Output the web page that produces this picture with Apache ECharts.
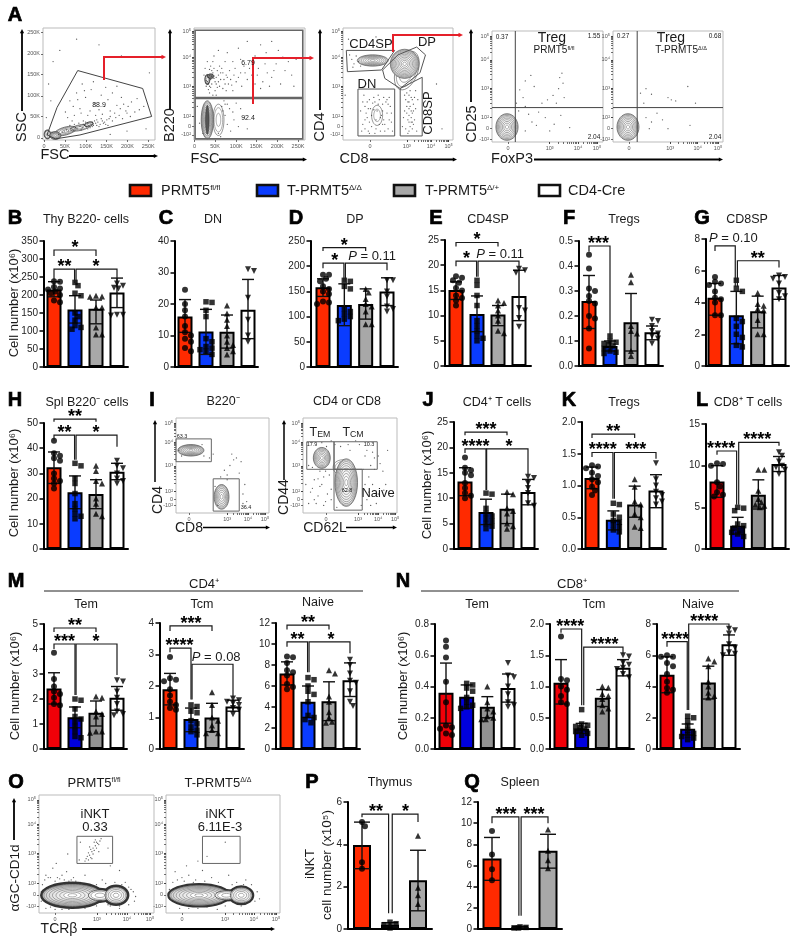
<!DOCTYPE html>
<html><head><meta charset="utf-8">
<style>html,body{margin:0;padding:0;background:#fff}#c{width:796px;height:942px}</style>
<script src="https://cdn.jsdelivr.net/npm/echarts@6/dist/echarts.min.js"></script>
</head><body><div id="c"></div>
<script>
// ---------- bar panel values ----------
const B_means=[215,160,162,207], B_hi=[237,198,186,247], B_lo=[195,122,120,165];
const B_pts=[[238,237,222,218,215,210,205,200,185,180],[235,226,205,198,150,140,130,115,110,105],[198,196,195,165,165,110,90,90],[232,226,220,218,145,145,143]];
const B_br=[[0,2,325,308,308,'*',1],[0,.98,272,233,233,'**',.5],[1.05,3,272,233,232,'*',2]];
const C_means=[16,11.3,11.2,18.2], C_hi=[21.4,18.3,16.5,27.8], C_lo=[11,4,6,9];
const C_pts=[[24.5,20,18,16,13,11,10,9,8,6,5],[20.7,20.5,18,16,9,8,6.5,6,5.5,5,4],[19.5,17,15,13,10,8,7,6,5,4],[31,30.5,22,15,10,8]];
const D_means=[158,123,125,150], D_hi=[175,165,155,177], D_lo=[140,82,95,122];
const D_pts=[[183,183,175,170,160,155,150,145,130,128,125],[172,170,160,155,115,110,105,100,95,92],[155,148,135,125,120,110,85,85],[172,172,150,140,120,115,110]];
const D_br=[[0,2,237,230,230,'*',1],[0,.98,206,196,169,'*',.55],[1.05,3,206,169,192,'P = 0.11',2.3]];
const E_means=[15.1,10.3,10.2,13.9], E_hi=[16.7,13.9,12,19], E_lo=[13.2,6.8,8,9];
const E_pts=[[17.8,17.5,17,16.5,15.5,15,14,13.5,13,12],[17,16,14,12,9,8,7,6,5.5,5],[13,12.5,12,11,10,9,7,6.5],[19.3,19,18.5,11.5,11,9.5,7.8]];
const E_br=[[0,2,24.5,23.7,23.7,'*',1],[0,.98,20.8,19.8,17.7,'*',.5],[1.05,3,20.8,17.7,19.6,'P = 0.11',2.1]];
const F_means=[.26,.08,.175,.135], F_hi=[.362,.1,.29,.16], F_lo=[.15,.06,.06,.105];
const F_pts=[[.445,.39,.31,.3,.28,.26,.25,.2,.19,.15,.07],[.12,.1,.095,.09,.085,.08,.07,.06,.055,.05],[.365,.335,.16,.14,.13,.06,.04],[.185,.18,.16,.14,.13,.12,.11,.09]];
const F_br=[[0,1,.48,.457,.104,'***',.45]];
const G_means=[4.3,3.2,3.45,4.95], G_hi=[5.2,4.7,4.4,5.7], G_lo=[3.2,1.4,2.4,4.2];
const G_pts=[[5.6,5.3,5.2,5.1,4.7,4.3,4.2,4,3.2,3.2],[5.4,4.9,4.7,3,2.8,2.5,2,1.8,1.3,1.2],[4.6,3.9,3.8,3.6,3.5,2.9,2,2],[5.7,5.6,5.5,5.2,4.6,4.4,4.2]];
const G_br=[[0,.95,7.57,7.25,5,'P = 0.10',.86],[1.05,3,6.63,5,6.2,'**',2]];
const H_means=[32.4,22.5,21.8,30.7], H_hi=[38.5,29,27.5,34], H_lo=[26,16,16,27.5];
const H_pts=[[43,38,37,36,35,30,28,27,26,24],[34,33,28,26,22,18,16,14,13,12],[33,31,27,26,20,18,14,13],[35,33,32,30,28,27,26]];
const H_br=[[0,2,51.5,50.5,50.5,'**',1],[0,.98,45.2,43.2,35.4,'**',.5],[1.05,3,45.2,35.4,40.6,'*',2]];
const J_means=[13.3,7.3,7.9,11.2], J_hi=[16,9.8,10.8,13.7], J_lo=[10.5,4.8,5,8.7];
const J_pts=[[18,16,15.5,15,14.5,13,12,11,10.5,10],[11,10.8,8,7,6.5,6,5.5,5,4.5,4],[11.2,10.8,8,7.5,7,5,4.5,4],[14.2,14,13,12,11,9,8.5]];
const J_br=[[0,2,23,22.4,22.4,'***',1],[0,1,19.7,18.9,11.6,'****',.5],[1.03,3,19.7,11.6,14.6,'*',2.1]];
const K_means=[1.12,.46,.7,.92], K_hi=[1.29,.6,.99,1.17], K_lo=[.95,.3,.5,.65];
const K_pts=[[1.32,1.3,1.27,1.2,1.15,1.1,1.05,.98,.92,.85],[.72,.7,.55,.5,.45,.42,.38,.35,.3,.27],[1.1,.98,.75,.7,.55,.5,.35,.33],[1.35,1.1,1,.9,.85,.8,.75,.7]];
const K_br=[[0,2,1.81,1.75,1.75,'**',1],[0,.98,1.52,1.45,.79,'****',.5],[1.05,3,1.52,.79,1.42,'***',2.05]];
const L_means=[8.1,2.8,6.5,10.2], L_hi=[10,3.8,8.3,11.1], L_lo=[6.2,1.8,4.8,9.3];
const L_pts=[[10.3,10.2,10,8,7.5,6.8,6.5,6.3],[5,4.9,4.6,3,2.8,2.5,2.2,2,1.8,1.5],[9.5,9.5,7,6,5.6,5.3,5.2,5],[11.6,11.2,10.5,10,9.8,9.5,9]];
const L_br=[[0,.95,11.76,11.3,5.3,'****',.2],[1.05,3,12.8,5.3,12.4,'****',1.95]];
const M1_means=[2.42,1.27,1.45,2.05], M1_hi=[3.05,1.68,1.92,2.5], M1_lo=[1.8,.85,.92,1.55];
const M1_pts=[[3.85,2.8,2.5,2.3,2.2,2.05,1.8,1.75],[2,1.95,1.6,1.3,1.2,1.1,.9,.7,.5,.45],[2.1,2.05,1.5,1.4,1.3,.7,.7,.65],[2.75,2.7,2.3,2.05,1.8,1.5,1.4,1.35]];
const M1_br=[[0,2,4.84,4.68,4.68,'**',1],[0,1,4.2,4,2.16,'***',.5],[1.05,3,4.2,2.16,2.96,'*',2]];
const M2_means=[1.9,.95,1,1.35], M2_hi=[2.4,1.3,1.45,1.55], M2_lo=[1.4,.55,.55,1.2];
const M2_pts=[[2.92,2.25,2.2,2.15,1.9,1.7,1.5,1.4,1.3,1.25],[1.4,1.35,1.2,1.15,.9,.8,.7,.6,.55,.45],[1.8,1.4,1,.9,.75,.6,.5,.5],[1.6,1.55,1.5,1.45,1.4,1.3,1.25,1.1]];
const M2_br=[[0,2,3.91,3.75,3.75,'***',1],[0,1,3.2,3.07,1.57,'****',.45],[1.05,3,2.69,1.57,1.63,'P = 0.08',2.2]];
const M3_means=[7.2,4.5,4.55,6.55], M3_hi=[8.3,6,6.4,8.2], M3_lo=[6.1,3,2.7,5];
const M3_pts=[[8.8,8.75,8.2,7.5,7.3,7,6.2,5.9,5.7],[6.8,6.6,6,5.5,5.2,4.5,3.2,3,2.8,2.5],[7.5,7.2,5,4.5,3.5,3,2.6,2.5],[8.5,8,7.2,6.5,6.3,5.5,4.5,4.1]];
const M3_br=[[0,2,11.8,11.37,11.37,'**',1],[0,.98,10.2,9.73,7.3,'**',.5],[1.05,3,10.2,7.3,9.13,'*',2.1]];
const N1_means=[.36,.335,.27,.39], N1_hi=[.55,.41,.335,.48], N1_lo=[.165,.26,.2,.3];
const N1_pts=[[.695,.655,.585,.43,.3,.15,.14,.13,.1,.09],[.42,.41,.39,.37,.33,.3,.28,.27,.26],[.4,.3,.26,.24,.21,.2,.19,.19],[.55,.47,.46,.4,.35,.3,.28,.27]];
const N2_means=[1.06,.33,.82,1.3], N2_hi=[1.43,.41,.95,1.43], N2_lo=[.72,.25,.68,1.17];
const N2_pts=[[1.8,1.12,1.1,1,.95,.85,.75,.72],[.63,.4,.38,.36,.34,.32,.3,.28,.25,.22],[1,.98,.88,.85,.8,.7,.65,.6],[1.5,1.48,1.38,1.35,1.3,1.28,1.2,1.15]];
const N2_br=[[0,1,1.92,1.86,.7,'****',.45],[1.1,3,1.63,.7,1.52,'****',2.1]];
const N3_means=[4.75,1.3,4.25,6.7], N3_hi=[5.9,1.6,5.3,7.3], N3_lo=[3.6,.9,3.2,6];
const N3_pts=[[6,5.9,5.9,5.5,5.3,4.8,4.3,3.9,3.8,3.6],[2.1,2,1.8,1.5,1.2,1,.9,.8,.7,.6],[5.8,5.6,5.3,4.3,4,3.6,3.4,3.3],[7.7,7.6,7.4,6.7,6.5,6.2,6.1,6]];
const N3_br=[[0,.98,6.87,6.55,2.5,'****',.4],[1.05,3,8,2.5,7.75,'****',1.8]];
const P_means=[3.97,.2,2.3], P_hi=[5.05,.3,3.72], P_lo=[2.85,.1,.86];
const P_pts=[[5.05,4.85,3.15,2.85],[.32,.25,.2,.05],[4.4,1.95,1.6,1.18]];
const P_br=[[0,.95,5.43,5.28,.75,'**',.5],[1.08,2,5.43,.75,5.06,'*',1.55]];
const Q_means=[6.65,.15,7.4], Q_hi=[8.65,.25,8.95], Q_lo=[4.6,.05,5.75];
const Q_pts=[[9.25,7.05,5.65,4.6],[.2,.15,.1,.1],[9.4,7.4,6.5,5.75]];
const Q_br=[[0,.96,10.6,10,1.25,'***',.5],[1.04,2,10.6,1.25,10,'***',1.5]];

// ---------- flow-cytometry plot content (percent of plot range) ----------
const logLabels=['-10²','0','10²','10³','10⁴','10⁵'], logLabelsX=['0','10³','10⁴','10⁵'];
const fscLabels=['0','50K','100K','150K','200K','250K'];
const dotsA1=[[14,5],[17,7],[19,8],[21,9],[23,8],[25,10],[27,9],[29,11],[31,10],[33,12],[35,11],[37,13],[39,12],[41,13],[43,14],[45,13],[47,15],[49,16],[51,14],[53,17],[55,16],[57,18],[59,19],[62,17],[65,20],[68,22],[71,19],[75,24],[78,21],[82,25],[86,27],[90,30],[20,25],[24,35],[27,30],[30,42],[33,28],[35,50],[38,38],[40,22],[43,45],[46,33],[50,27],[52,40],[55,30],[58,36],[62,42],[66,31],[70,38],[74,26],[79,34],[84,37],[5,50],[9,70],[15,80],[30,90],[50,85],[70,75],[95,60],[92,10],[75,8],[60,5],[3,20],[7,35],[2,8],[4,5],[6,3],[8,7],[36,14],[40,15],[44,12],[48,13],[52,19],[56,14],[60,21],[34,9],[38,16],[42,11],[46,17],[50,12],[54,15],[58,13],[48,18],[44,16],[40,10],[36,17],[32,15],[28,14],[24,13],[26,17],[22,20],[28,22],[34,24],[42,26],[47,22],[53,23],[60,26],[64,24],[69,28],[72,32],[76,30],[37,44],[31,36],[45,52],[56,47],[66,48]];
const dotsA2=[[12,52],[14,58],[13,45],[16,62],[18,55],[20,50],[22,58],[15,66],[11,48],[24,54],[26,60],[28,50],[17,70],[19,44],[23,66],[30,56],[32,62],[34,49],[36,58],[38,52],[42,60],[45,66],[48,54],[52,58],[55,50],[58,64],[62,52],[66,60],[70,56],[74,68],[78,50],[82,62],[88,58],[92,72],[30,78],[40,82],[55,75],[65,78],[76,80],[85,70],[22,80],[48,88],[18,75],[9,58],[10,64],[12,70],[14,48],[16,50],[13,56],[15,54],[17,60],[19,52],[25,30],[28,22],[30,14],[33,8],[35,25],[22,6],[27,35],[30,32],[36,18],[40,12],[42,28],[38,33],[45,20],[48,10],[24,3],[8,6],[3,30],[5,15],[13,50],[11,53],[15,47],[14,63],[21,47],[25,64],[29,58],[33,54],[20,56],[22,52],[24,60],[27,54],[16,57],[18,64],[21,62],[23,48],[26,46],[29,44],[31,50],[35,44],[37,64],[40,56],[43,48],[46,60],[50,64],[53,70],[57,58],[60,46],[64,68],[68,48],[72,62],[80,74],[90,48],[35,70],[28,70],[42,72],[60,85],[70,88],[14,42],[17,40],[20,40],[28,32],[32,28],[26,26]];
const dotsA3=[[20,30],[22,20],[24,36],[26,12],[28,27],[30,18],[32,40],[34,8],[36,32],[38,14],[40,24],[42,38],[44,16],[18,14],[16,26],[19,40],[23,8],[29,6],[35,22],[41,10],[27,33],[31,26],[37,38],[43,30],[21,24],[25,28],[33,14],[39,34],[45,8],[17,8],[56,40],[58,30],[60,22],[62,38],[64,14],[66,28],[55,20],[57,10],[59,34],[61,44],[63,24],[65,18],[67,8],[68,36],[54,12],[60,8],[62,16],[64,32],[58,42],[66,44],[56,26],[60,28],[62,26],[59,18],[61,12],[63,36],[8,72],[10,68],[12,75],[14,70],[16,66],[9,65],[6,76],[2,40],[5,90],[30,92],[75,35],[80,20],[85,50],[90,10],[22,34],[24,16],[26,22],[28,38],[30,10],[32,32],[34,20],[36,26],[38,8],[40,36],[42,18],[44,24],[18,34],[20,10],[24,6],[36,14],[20,18],[23,28],[29,34],[33,36],[37,18],[41,32],[60,34],[62,20],[58,24],[60,16],[64,26],[57,36],[65,38],[63,10],[59,6],[61,30],[60,40],[63,16]];
const dotsT1=[[30,55],[35,60],[38,50],[60,48],[61,58],[63,62],[64,53],[55,42],[50,38],[45,35],[58,35],[33,25],[36,18],[40,15],[42,27],[48,22],[52,10],[56,16],[62,24],[70,13],[28,40],[25,47],[30,32],[65,40],[22,35],[24,28],[30,10]];
const dotsT2=[[30,48],[35,43],[50,40],[53,38],[57,37],[68,50],[75,35],[30,22],[35,18],[40,26],[45,20],[50,12],[70,15],[33,12],[28,35],[25,44]];
const dotsI1=[[60,62],[62,56],[65,58],[58,50],[70,54],[68,42],[55,40],[48,38],[52,45],[74,30],[72,20],[42,28],[36,58],[40,62],[6,60],[30,60],[28,72],[3,66],[72,10],[76,12],[45,8],[55,35]];
const dotsI2=[[8,22],[12,35],[16,18],[20,30],[24,12],[28,40],[14,10],[18,44],[10,48],[70,38],[74,30],[68,14],[80,20],[85,44],[72,50],[76,58],[60,72],[66,60],[50,66],[40,70],[25,70],[6,50],[3,30],[90,66],[88,30],[30,25],[22,8],[72,8],[6,10],[36,6],[64,46],[80,60],[12,14],[18,28],[22,38],[26,20],[30,14],[10,26],[16,36],[24,44],[66,30],[70,22],[76,46],[82,52],[68,66],[74,64],[56,76],[48,72],[34,72],[30,76],[20,74],[86,24],[78,10],[62,8]];
const dotsO1=[[42,48],[43,51],[44,49],[45,54],[46,52],[47,55],[48,53],[49,57],[50,55],[51,59],[52,58],[53,61],[41,46],[44,56],[47,50],[50,60],[46,46],[54,63],[40,44],[48,60],[52,52],[45,47],[43,45],[49,62],[30,30],[20,32],[24,35],[12,38],[35,45],[62,40],[70,36],[75,26],[25,50],[60,55],[16,30],[28,28],[40,32],[55,28],[80,20],[84,14],[10,5],[20,3],[40,4],[62,6],[70,4],[8,30],[5,28],[3,24],[36,60],[15,42],[6,32],[10,30],[14,27],[18,29],[22,28],[26,27],[32,27],[36,26],[44,24],[50,24],[58,25],[66,26],[72,24],[78,22],[82,18],[83,10],[78,7],[70,6],[60,7],[50,6],[30,4],[26,3],[14,3],[6,4],[2,10],[2,18]];
const dotsO2=[[10,28],[14,30],[20,32],[26,28],[32,36],[40,30],[55,32],[62,26],[70,28],[8,35],[18,40],[28,44],[36,48],[52,60],[75,24],[78,10],[45,3],[20,4],[12,4],[6,26],[16,27],[24,26],[34,27],[46,26],[58,24],[68,24],[80,18],[82,12],[66,6],[52,6],[36,5],[28,4],[3,12],[3,20]];
// contour clusters: cx, cy, rx, ry, rings, rotation in degrees, outer line width, outer fill
const contA1=[[4,5,3,4,3,0,.8,'#777'],[20,8,10,3.5,4,-15,.6,'#eee'],[33,11,9,2.5,3,-12,.6],[11,4,5,3.5,6,0,.7,'#bbb'],[41,14,4,2,3,-15,.8,'#777']];
const contA2=[[22,18,5,14,3,0,.5],[12,18,5.5,17,8,0,.6,'#ddd'],[12,18,1.6,13,1,0,.5,'#555'],[12,54,2.2,4.5,3,0,.9,'#555'],[15,57,3,2,1,0,.9,'#777']];
const contA3=[[27,71,14,5,8,0,.6,'#eee'],[58,62,10,18,4,20,.5],[56,68,13,13,11,0,.55,'#e8e8e8'],[31,22,5,9,2,0,.5,'#fff']];
const contT1=[[13.5,13.5,10,12,9,0,.6,'#eee']], contT2=[[13.6,13.5,10,12,9,0,.6,'#eee']];
const contI1=[[16,66,14,6,8,0,.6,'#ddd'],[49,17,8,13,7,0,.6,'#e4e4e4']];
const contI2=[[42,48,10,8,3,0,.5],[20,58,9,11,8,0,.6,'#eee'],[46,32,12,25,10,0,.6,'#e8e8e8']];
const contO1=[[29,15,27,10.5,1,0,2.6],[53,15,11,5.5,1,0,2.2],[67,15,10.5,8,1,0,2.6],[29,15,26,9.5,9,0,.7,'#ccc'],[53,15,10,4.5,3,0,.7,'#eee'],[67,15,9.5,7,5,0,.7,'#eee']];
const contO2=[[29,15,27,9.5,1,0,2.2],[53,15,11,4.5,1,0,1.8],[66,15,10.5,7.5,1,0,2.2],[29,15,26,8.5,9,0,.7,'#ccc'],[53,15,10,3.8,3,0,.7,'#eee'],[66,15,9.5,6.5,5,0,.7,'#eee']];
const gatesA1=[[[31,62],[89,46],[97,21],[33,4.5],[11,1],[3.6,4.5],[12.5,29]]];
const gatesA2=[[[1,98],[98,98],[98,38],[1,38]],[[1,37],[98,37],[98,1],[1,1]]];
const gatesA3=[[[3,80],[47,80],[35,62.5],[4,61]],[[67,83],[75,76],[70,60],[52,46],[38,55],[36,62.5],[50,76]],[[13.6,45.5],[47,45.5],[47,3.6],[13.6,3.6]],[[52,46],[72,56],[72,3.6],[52,3.6]]];
const linesT1=[[[21,0],[21,100]],[[0,31],[100,31]]], linesT2=[[[22,0],[22,100]],[[0,31],[100,31]]];
const gatesI1=[[[0,78],[38,78],[38,54],[0,54]],[[40,36],[68,36],[68,2],[40,2]]];
const gatesI2=[[[4,75],[33,75],[33,46],[4,46]],[[33,75],[79,75],[79,46],[33,46]],[[33,46],[63,46],[63,3],[33,3]]];
const gatesO=[[[33,65],[64,65],[64,42],[33,42]]];
const gatesO2=[[[32,65],[65,65],[65,42],[32,42]]];

// ---------- chart helpers ----------
const FF='"Liberation Sans",Arial,sans-serif', INK='#1a1a1a';
const colA=['#FF2A00','#0A3CFF','#A8A8A8','#FFFFFF'], colB=['#F00008','#0000DD','#929292','#FFFFFF'];
const symbols=[['circle',0,6],['rect',0,5.5],['triangle',0,6],['triangle',180,6]];
const grids=[],xAxes=[],yAxes=[],series=[];
function swarm(vals,pxPerUnit){
  const placed=[];
  vals.slice().sort((a,b)=>b-a).forEach(v=>{
    for(const dx of [0,3,-3,6,-6,4.5,-4.5,1.5,-1.5]){
      if(placed.every(q=>Math.hypot(q.dx-dx,(q.v-v)*pxPerUnit)>=4.4)||dx===-1.5){placed.push({v,dx});break;}
    }
  });
  return placed;
}
function barPanel(g,means,hi,lo,pts,br){
  const i=grids.length,n=means.length,slot=(g.c1-g.c0)/(n-1),cols=g.alt?colB:colA;
  grids.push({left:g.x,top:g.top,width:g.end-g.x,height:g.y0-g.top});
  xAxes.push({gridIndex:i,type:'value',min:(g.x-g.c0)/slot,max:(g.end-g.c0)/slot,splitLine:{show:false},axisTick:{show:false},axisLabel:{show:false},axisLine:{show:true,onZero:false,lineStyle:{color:'#000',width:2}}});
  yAxes.push({gridIndex:i,type:'value',min:0,max:g.max,interval:g.step,splitLine:{show:false},
    axisLine:{show:true,onZero:false,lineStyle:{color:'#000',width:2}},axisTick:{show:true,length:4.5,lineStyle:{color:'#000',width:1.5}},
    axisLabel:{margin:6,fontSize:10,color:'#222',fontFamily:FF,formatter:v=>v.toFixed(g.dec||0)}});
  const ax={xAxisIndex:i,yAxisIndex:i};
  series.push(Object.assign({type:'bar',barWidth:g.bw||15,silent:true,z:2,
    data:means.map((m,k)=>({value:[k,m],itemStyle:{color:cols[k],borderColor:'#000',borderWidth:2}}))},ax));
  series.push(Object.assign({type:'custom',silent:true,z:3,clip:false,data:means.map((m,k)=>[k,hi[k],lo[k]]),
    renderItem:(p,api)=>{const a=api.coord([api.value(0),api.value(1)]),b=api.coord([api.value(0),api.value(2)]),c=g.cap||6,s={stroke:'#111',lineWidth:1.4};
      return {type:'group',children:[[a[0],a[1],b[0],b[1]],[a[0]-c,a[1],a[0]+c,a[1]],[b[0]-c,b[1],b[0]+c,b[1]]].map(l=>({type:'line',shape:{x1:l[0],y1:l[1],x2:l[2],y2:l[3]},style:s}))};}},ax));
  const ppu=(g.y0-g.top)/g.max;
  pts.forEach((list,k)=>{
    const sw=swarm(list,ppu);
    series.push(Object.assign({type:'scatter',silent:true,z:4,symbol:symbols[k][0],symbolRotate:symbols[k][1],symbolSize:symbols[k][2],
      itemStyle:{color:'#000'},data:sw.map(q=>[k+q.dx/slot,q.v])},ax));
  });
  if(br) series.push(Object.assign({type:'custom',silent:true,z:5,clip:false,data:br.map((b,k)=>[b[0],b[2],k]),
    renderItem:(p,api)=>{
      const b=br[api.value(2)],A=api.coord([b[0],b[2]]),B=api.coord([b[1],b[2]]),d1=api.coord([b[0],b[3]]),d2=api.coord([b[1],b[4]]),t=api.coord([b[6],b[2]]);
      const isP=b[5][0]==='P';
      return {type:'group',children:[
        {type:'polyline',shape:{points:[d1,A,B,d2]},style:{stroke:INK,lineWidth:1.2,fill:'none'}},
        isP?{type:'text',x:t[0],y:t[1]-7,style:{text:'{i|P}{n|'+b[5].slice(1)+'}',align:'center',verticalAlign:'middle',rich:{i:{fontStyle:'italic',fontSize:13,fontFamily:FF,fill:INK},n:{fontSize:13,fontFamily:FF,fill:INK}}}}
           :{type:'text',x:t[0],y:t[1]-2,style:{text:b[5],font:'bold 18px '+FF,fill:'#000',align:'center',verticalAlign:'middle'}}
      ]};}},ax));
}
function decadeTicks(m){ // minor log ticks between labelled decade positions
  const out=m.slice();
  for(let j=0;j<m.length-1;j++) for(let k=2;k<10;k++) out.push(m[j]+(m[j+1]-m[j])*Math.log10(k));
  return out;
}
function facs(f){
  const i=grids.length;
  grids.push({left:f.L,top:f.T,width:f.W,height:f.H,show:true,borderColor:'#bbb',borderWidth:1,backgroundColor:'#fff'});
  const mk=(major,minor,labels)=>({gridIndex:i,type:'value',min:0,max:100,splitLine:{show:false},axisLine:{show:false,onZero:false},
    axisTick:{show:true,customValues:major.concat(minor),length:2,lineStyle:{color:'#333',width:.7}},
    axisLabel:{show:true,customValues:major,formatter:v=>labels[major.indexOf(v)]||'',fontSize:5.5,color:'#555',margin:3,fontFamily:FF}});
  const xm=f.xMinor||decadeTicks(f.xT.slice(1)), ym=f.yMinor||decadeTicks(f.yT.slice(2));
  xAxes.push(mk(f.xT,xm,f.xL));
  yAxes.push(mk(f.yT,ym,f.yL));
  const ax={xAxisIndex:i,yAxisIndex:i};
  series.push(Object.assign({type:'custom',silent:true,z:2,clip:false,data:f.cont.map((c,k)=>[c[0],c[1],k]),
    renderItem:(p,api)=>{const c=f.cont[api.value(2)],o=api.coord([c[0],c[1]]),s=api.size([c[2],c[3]]),kids=[];
      for(let r=0;r<c[4];r++){const q=1-Math.pow(r/c[4],1.35);
        kids.push({type:'ellipse',shape:{cx:0,cy:0,rx:s[0]*q,ry:s[1]*q},style:{fill:r===0?(c[7]||'none'):(c[7]&&r<c[4]-2?'rgba(255,255,255,.18)':(c[7]?'#fff':'none')),stroke:r===0?'#333':'#666',lineWidth:r===0?c[6]:.55}});}
      return {type:'group',x:o[0],y:o[1],rotation:-c[5]*Math.PI/180,children:kids};}},ax));
  series.push(Object.assign({type:'scatter',silent:true,z:3,symbol:'circle',symbolSize:1.3,itemStyle:{color:'#333'},data:f.dots},ax));
  if(f.gates) series.push(Object.assign({type:'custom',silent:true,z:4,clip:false,data:f.gates.map((g,k)=>[g[0][0],g[0][1],k]),
    renderItem:(p,api)=>({type:'polygon',shape:{points:f.gates[api.value(2)].map(v=>api.coord(v))},style:{fill:'none',stroke:f.gateColor||'#555',lineWidth:f.gw||1}})},ax));
  if(f.lines) series.push(Object.assign({type:'custom',silent:true,z:4,clip:false,data:f.lines.map((g,k)=>[g[0][0],g[0][1],k]),
    renderItem:(p,api)=>{const l=f.lines[api.value(2)],a=api.coord(l[0]),b=api.coord(l[1]);return {type:'line',shape:{x1:a[0],y1:a[1],x2:b[0],y2:b[1]},style:{stroke:'#444',lineWidth:1}};}},ax));
}

// ---------- layouts ----------
const top1=241,top2=423,top3=624,y0M=749;
barPanel({x:44,end:128,top:top1,y0:367,c0:54,c1:117,max:350,step:50},B_means,B_hi,B_lo,B_pts,B_br);
barPanel({x:175,end:258,top:top1,y0:367,c0:185,c1:248,max:40,step:10},C_means,C_hi,C_lo,C_pts);
barPanel({x:311,end:398,top:top1,y0:367,c0:323,c1:387,max:250,step:50},D_means,D_hi,D_lo,D_pts,D_br);
barPanel({x:445,end:531,top:240,y0:366,c0:456,c1:519,max:25,step:5},E_means,E_hi,E_lo,E_pts,E_br);
barPanel({x:579,end:663,top:top1,y0:366,c0:589,c1:652,max:.5,step:.1,dec:1},F_means,F_hi,F_lo,F_pts,F_br);
barPanel({x:706,end:789,top:239,y0:366,c0:715,c1:779,max:8,step:2},G_means,G_hi,G_lo,G_pts,G_br);
barPanel({x:44,end:128,top:top2,y0:549,c0:54,c1:117,max:50,step:10},H_means,H_hi,H_lo,H_pts,H_br);
barPanel({x:454,end:538,top:422,y0:549,c0:465,c1:528,max:25,step:5},J_means,J_hi,J_lo,J_pts,J_br);
barPanel({x:582,end:666,top:422,y0:549,c0:592,c1:656,max:2,step:.5,dec:1},K_means,K_hi,K_lo,K_pts,K_br);
barPanel({x:706,end:789,top:424,y0:549,c0:717,c1:779,max:15,step:5,alt:1},L_means,L_hi,L_lo,L_pts,L_br);
barPanel({x:44,end:127,top:top3,y0:y0M,c0:54,c1:117,max:5,step:1,alt:1},M1_means,M1_hi,M1_lo,M1_pts,M1_br);
barPanel({x:160,end:244,top:623,y0:y0M,c0:170,c1:233,max:4,step:1},M2_means,M2_hi,M2_lo,M2_pts,M2_br);
barPanel({x:276,end:360,top:623,y0:y0M,c0:287,c1:350,max:12,step:2},M3_means,M3_hi,M3_lo,M3_pts,M3_br);
barPanel({x:435,end:520,top:top3,y0:y0M,c0:446,c1:508,max:.8,step:.2,dec:1,alt:1},N1_means,N1_hi,N1_lo,N1_pts);
barPanel({x:550,end:634,top:top3,y0:y0M,c0:561,c1:623,max:2,step:.5,dec:1,alt:1},N2_means,N2_hi,N2_lo,N2_pts,N2_br);
barPanel({x:657,end:740,top:top3,y0:y0M,c0:667,c1:729,max:8,step:2,alt:1},N3_means,N3_hi,N3_lo,N3_pts,N3_br);
barPanel({x:348,end:432,top:802,y0:929,c0:362,c1:418,max:6,step:2,bw:18,cap:8},P_means,P_hi,P_lo,P_pts,P_br);
barPanel({x:478,end:562,top:802,y0:929,c0:492,c1:548,max:12,step:2,bw:19,cap:8},Q_means,Q_hi,Q_lo,Q_pts,Q_br);

const yLogA=[4.5,12.5,21.4,48,74,97.3], yLogT=[2.7,12.6,22.5,48.6,74,95.5], yLogI=[8.4,14.7,23,49.5,74.7,94.7], yLogO=[5.9,15.3,25.4,50.8,75.4,95.8];
facs({L:43,T:28,W:112,H:112,xT:[1,19.6,38.2,56.8,75.4,94],xL:fscLabels,xMinor:[],yT:[2,20.8,39.5,58.3,77,95.8],yL:fscLabels,yMinor:[],dots:dotsA1,cont:contA1,gates:gatesA1,gateColor:'#444'});
facs({L:194,T:28,W:111,H:112,xT:[.5,19,38,56,75,93.7],xL:fscLabels,xMinor:[],yT:yLogA,yL:logLabels,dots:dotsA2,cont:contA2,gates:gatesA2,gateColor:'#666',gw:1.6});
facs({L:343,T:28,W:110,H:112,xT:[24.5,58,80,96],xL:logLabelsX,yT:yLogA,yL:logLabels,dots:dotsA3,cont:contA3,gates:gatesA3,gateColor:'#555'});
facs({L:492,T:31,W:111,H:111,xT:[14.4,52,77.5,94.6],xL:logLabelsX,yT:yLogT,yL:logLabels,dots:dotsT1,cont:contT1,lines:linesT1});
facs({L:613,T:31,W:110,H:111,xT:[14.5,52,77,95.5],xL:logLabelsX,yT:yLogT,yL:logLabels,dots:dotsT2,cont:contT2,lines:linesT2});
facs({L:176,T:418,W:93,H:95,xT:[14,55,77.4,95.7],xL:logLabelsX,yT:yLogI,yL:logLabels,dots:dotsI1,cont:contI1,gates:gatesI1,gateColor:'#666'});
facs({L:303,T:418,W:94,H:95,xT:[24.5,58.5,80,98],xL:logLabelsX,yT:yLogI,yL:logLabels,dots:dotsI2,cont:contI2,gates:gatesI2,gateColor:'#666'});
facs({L:39,T:795,W:115,H:118,xT:[14,50.4,76.5,96.5],xL:logLabelsX,yT:yLogO,yL:logLabels,dots:dotsO1,cont:contO1,gates:gatesO,gateColor:'#666'});
facs({L:166,T:795,W:114,H:118,xT:[14,51.8,77,96.5],xL:logLabelsX,yT:yLogO,yL:logLabels,dots:dotsO2,cont:contO2,gates:gatesO2,gateColor:'#666'});

// ---------- text & decoration ----------
const gfx=[];
const richBase={a:{fontFamily:FF,fill:INK},s:{fontFamily:FF,fill:INK,verticalAlign:'top'}};
function T(text,x,y,size,o){o=o||{};
  const rich={a:Object.assign({},richBase.a,{fontSize:size}),s:Object.assign({},richBase.s,{fontSize:(o.sup||size*.55)}),sub:{fontFamily:FF,fill:INK,fontSize:size*.7,verticalAlign:'bottom'}};
  gfx.push({type:'text',x,y,rotation:o.rot||0,silent:true,z:60,style:{text,fontSize:size,fontFamily:FF,fontWeight:o.w||'normal',fill:o.c||INK,stroke:o.st||undefined,lineWidth:o.st?.7:0,
    align:o.al||'center',verticalAlign:'middle',textAlign:o.al||'center',textVerticalAlign:'middle',rich:text.indexOf('{')>=0?rich:undefined}});
}
function L(pts,color,w){gfx.push({type:'polyline',silent:true,z:59,shape:{points:pts},style:{stroke:color,lineWidth:w,fill:'none'}});}
function head(x,y,dir,color,s){const d={r:[[x,y],[x-s*1.4,y-s*.7],[x-s*1.4,y+s*.7]],u:[[x,y],[x-s*.7,y+s*1.4],[x+s*.7,y+s*1.4]]}[dir];
  gfx.push({type:'polygon',silent:true,z:59,shape:{points:d},style:{fill:color}});}
function arrowR(x1,x2,y,c,w){L([[x1,y],[x2-3,y]],c||'#000',w||1.8);head(x2,y,'r',c||'#000',3);}
function arrowU(x,y1,y2,c,w){L([[x,y1],[x,y2+3]],c||'#000',w||1.8);head(x,y2,'u',c||'#000',3);}
function legendBox(x,c){gfx.push({type:'rect',silent:true,z:59,shape:{x:x,y:185,width:21,height:11},style:{fill:c,stroke:'#111',lineWidth:2.6}});}

const panelLetters=[['A',15,15],['B',15,218],['C',166,218],['D',296,218],['E',436,218],['F',569,218],['G',702,218],['H',15,400],['I',152,400],['J',428,400],['K',569,400],['L',702,400],['M',16,581],['N',403,581],['O',16,782],['P',312,782],['Q',472,782]];
panelLetters.forEach(l=>T(l[0],l[1],l[2],20,{w:'bold',c:'#000',st:'#000'}));

const panelTitles=[['Thy B220- cells',86,220],['DN',213,220],['DP',355,220],['CD4SP',488,220],['Tregs',624,220],['CD8SP',747,220],['Spl B220⁻ cells',87,403],['B220⁻',223,402],['CD4 or CD8',347,402],['CD4⁺ T cells',497,403],['Tregs',624,403],['CD8⁺ T cells',748,403],['Tem',86,605],['Tcm',202,605],['Naive',318,603],['Tem',477,605],['Tcm',594,605],['Naive',698,605],['Thymus',390,783],['Spleen',520,783]];
panelTitles.forEach(t=>T(t[0],t[1],t[2],12.5));
T('CD4⁺',204,584,13);T('CD8⁺',572,584,13);
L([[44,591],[363,591]],'#222',1);L([[421,591],[739,591]],'#222',1);

const yTitles=[[14,303],[14,483],[427,485],[15,686],[403,686]];
yTitles.forEach(t=>T('Cell number (x10⁶)',t[0],t[1],13,{rot:Math.PI/2}));
T('iNKT',310,864,13.5,{rot:Math.PI/2});T('cell number (x10⁵)',327,865,13.5,{rot:Math.PI/2});

// legend
[[130,colA[0],'{a|PRMT5}{s|fl/fl}',161],[257,colA[1],'{a|T-PRMT5}{s|Δ/Δ}',287],[394,colA[2],'{a|T-PRMT5}{s|Δ/+}',425],[539,'#fff','{a|CD4-Cre}',568]].forEach(l=>{legendBox(l[0],l[1]);T(l[2],l[3],191,14.5,{al:'left',sup:8});});

// flow axis captions
const R=Math.PI/2;
T('SSC',22,127,14.5,{rot:R});arrowU(22,111,29);T('FSC',55,155,14.5);arrowR(69,158,156);
T('B220',170,125,14.5,{rot:R});arrowU(170,110,29);T('FSC',205,159,14.5);arrowR(219,307,159.5);
T('CD4',320,127,14.5,{rot:R});arrowU(320,110,29);T('CD8',354,159,14.5);arrowR(370,457,159.5);
T('CD25',472,124,14.5,{rot:R});arrowU(471,102,29);T('FoxP3',512,159,14.5);arrowR(534,723,159.5);
T('CD4',158,500,14,{rot:R});arrowU(155,482,420,'#000',1.5);T('CD8',189,528,14);arrowR(203,270,527.5,'#000',1.5);
T('CD44',284,497,14,{rot:R});arrowU(284,480,420,'#000',1.5);T('CD62L',325,528,14);arrowR(346,397,527.5,'#000',1.5);
T('αGC-CD1d',15,878,13.5,{rot:R});arrowU(14,840,798);T('TCRβ',59,929,14);arrowR(82,275,929);

// flow annotations
const flowNotes=[['88.9',99,105,7],['6.79',248,63,7],['92.4',248,118,7],['0.37',502,37,6.5],['1.55',594,36,6.5],['2.04',594,137,6.5],['0.27',623,36,6.5],['0.68',715,36,6.5],['2.04',715,137,6.5],['63.3',182,436,5.5],['36.4',246,507,5.5],['17.9',312,444,5.5],['10.3',369,444,5.5],['62.8',347,490,5.5]];
flowNotes.forEach(n=>T(n[0],n[1],n[2],n[3]));
T('CD4SP',371,44,13);T('DP',427,42,13);T('DN',367,84,13);T('CD8SP',428,113,13,{rot:R});
T('Treg',552,38,14);T('{a|PRMT5}{s|fl/fl}',554,50,10,{sup:5.5});T('Treg',671,38,14);T('{a|T-PRMT5}{s|Δ/Δ}',681,50,10,{sup:5.5});
T('{a|T}{sub|EM}',320,433,12.5);T('{a|T}{sub|CM}',353,433,12.5);T('Naive',378,493,13);
T('{a|PRMT5}{s|fl/fl}',94,783,13,{sup:7});T('{a|T-PRMT5}{s|Δ/Δ}',218,783,13,{sup:7});
T('iNKT',95,814,13);T('0.33',95,827,13);T('iNKT',220,814,13);T('6.11E-3',220,827,13);

// red gating arrows
L([[104,80],[104,57],[163,57]],'#E5202A',2);head(166,57,'r','#E5202A',3.2);
L([[253,104],[253,58],[311,58]],'#E5202A',2);head(314,58,'r','#E5202A',3.2);
L([[393,52],[393,35],[460,35]],'#E5202A',2);head(463,35,'r','#E5202A',3.2);

echarts.init(document.getElementById('c'),null,{renderer:'canvas'}).setOption({
  animation:false,backgroundColor:'#fff',textStyle:{fontFamily:FF},
  grid:grids,xAxis:xAxes,yAxis:yAxes,series,graphic:{elements:gfx}
});
</script></body></html>
